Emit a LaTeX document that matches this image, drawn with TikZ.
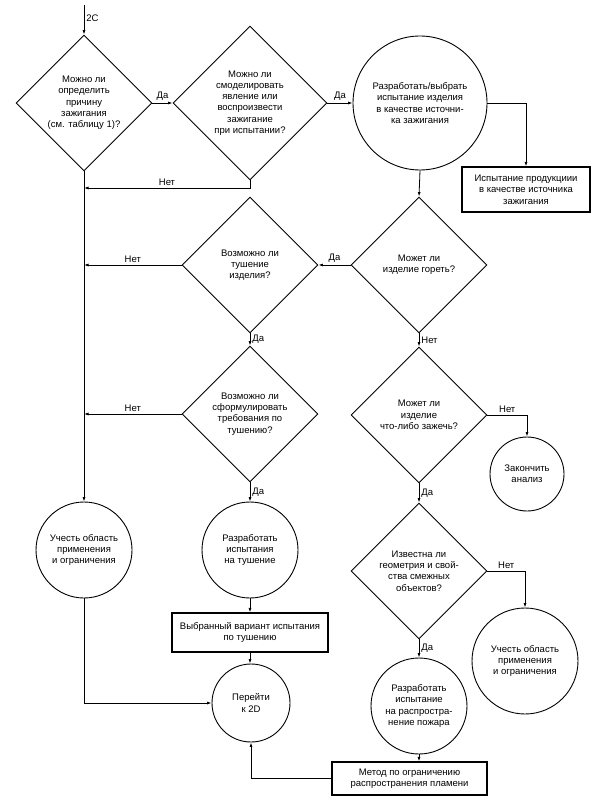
\documentclass[tikz,border=0pt]{standalone}
\usepackage{fontspec}
\setmainfont{Liberation Sans}
\usetikzlibrary{shapes.geometric,arrows.meta}

\tikzset{
  ask/.style={diamond, draw, line width=0.9pt, inner sep=0pt, align=center,
    minimum width=#1, minimum height=#1},
  ask/.default=136pt,
  act/.style={circle, draw, line width=0.9pt, inner sep=0pt, align=center, minimum size=#1},
  res/.style={rectangle, draw, line width=1.2pt, inner sep=0pt, align=center},
  go/.style={draw, line width=0.8pt, -{Latex[length=4.5pt,width=3pt]}},
  ln/.style={draw, line width=0.8pt},
  lab/.style={inner sep=2pt}
}

\begin{document}
\begin{tikzpicture}[x=1pt, y=-1pt, font=\fontsize{9.5}{11.3}\selectfont]
			%%%%% START %%%%%
			\useasboundingbox (0,0) rectangle (605,802);
			
			% left column
			\coordinate (top) at (84,5);
			\node[ask] (canfind) at (84,103) {Можно ли\\определить\\причину\\зажигания\\(см. таблицу 1)?};
			\node[act=96pt] (scopeL) at (84,550) {Учесть область\\применения\\и ограничения};
			
			% second column
			\node[ask=154pt] (canmodel) at (250,103) {Можно ли\\смоделировать\\явление или\\воспроизвести\\зажигание\\при испытании?};
			\node[ask] (canext) at (250,265) {Возможно ли\\тушение\\изделия?};
			\node[ask] (canreq) at (250,414) {Возможно ли\\сформулировать\\требования по\\тушению?};
			\node[act=96pt] (devext) at (250,550) {Разработать\\испытания\\на тушение};
			\node[res, minimum width=156pt, minimum height=39pt] (chosen) at (250,632.5) {Выбранный вариант испытания\\по тушению};
			\node[act=78pt] (goto) at (251,703) {Перейти\\к 2D};
			
			% third column
			\node[act=134pt] (devsrc) at (420,103) {Разработать/выбрать\\испытание изделия\\в качестве источни-\\ка зажигания};
			\node[ask] (canburn) at (419,265) {Может ли\\изделие гореть?};
			\node[ask] (canign) at (419,415) {Может ли\\изделие\\что-либо зажечь?};
			\node[ask] (known) at (419,571) {Известна ли\\геометрия и свой-\\ства смежных\\объектов?};
			\node[act=96pt] (devspread) at (419,706) {Разработать\\испытание\\на распростра-\\нение пожара};
			\node[res, minimum width=155pt, minimum height=33pt] (method) at (409.5,778.5) {Метод по ограничению\\распространения пламени};
			
			% right column
			\node[res, minimum width=128pt, minimum height=45pt] (prodtest) at (526,189.5) {Испытание продукциии\\в качестве источника\\зажигания};
			\node[act=74pt] (stop) at (527,474) {Закончить\\анализ};
			\node[act=106pt] (scopeR) at (525,661) {Учесть область\\применения\\и ограничения};
			
			% junctions on the left line
			\coordinate (j1) at (84,188);
			\coordinate (j2) at (84,265);
			\coordinate (j3) at (84,414);
			
			% connectors
			\draw[go] (top) -- node[lab, right, pos=0.45] {2C} (canfind.north);
			\draw[go] (canfind.east) -- node[lab, above] {Да} (canmodel.west);
			\draw[go] (canmodel.east) -- node[lab, above] {Да} (devsrc.west);
			\draw[go] (devsrc.east) -| (prodtest.north);
			\draw[go] (devsrc.south) -- (canburn.north);
			\draw[go] (canmodel.south) |- node[lab, above, pos=0.75] {Нет} (j1);
			\draw[go] (canfind.south) -- (scopeL.north);
			
			\draw[go] (canburn.west) -- node[lab, above] {Да} (canext.east);
			\draw[go] (canext.west) -- node[lab, above] {Нет} (j2);
			\draw[go] (canext.south) -- node[lab, right] {Да} (canreq.north);
			\draw[go] (canreq.west) -- node[lab, above] {Нет} (j3);
			\draw[go] (canreq.south) -- node[lab, right] {Да} (devext.north);
			\draw[go] (devext.south) -- (chosen.north);
			\draw[go] (chosen.south) -- (chosen.south |- goto.north);
			\draw[go] (scopeL.south) |- (goto.west);
			\draw[go] (method.west) -| (goto.south);
			
			\draw[go] (canburn.south) -- node[lab, right] {Нет} (canign.north);
			\draw[go] (canign.east) -| node[lab, above, pos=0.25] {Нет} (stop.north);
			\draw[go] (canign.south) -- node[lab, right] {Да} (known.north);
			\draw[go] (known.east) -| node[lab, above, pos=0.25] {Нет} (scopeR.north);
			\draw[go] (known.south) -- node[lab, right] {Да} (devspread.north);
			\draw[go] (devspread.south) -- (devspread.south |- method.north);
			
			%%%%% END %%%%%
\end{tikzpicture}
\end{document}
